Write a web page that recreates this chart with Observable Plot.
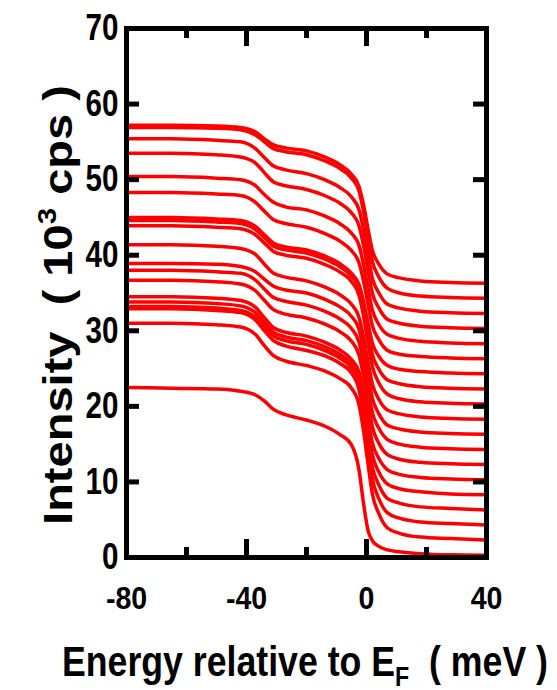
<!DOCTYPE html>
<html><head><meta charset="utf-8">
<script src="https://cdn.jsdelivr.net/npm/d3@7"></script>
<script src="https://cdn.jsdelivr.net/npm/@observablehq/plot@0.6"></script>
<style>
html,body{margin:0;padding:0;background:#fff;}
#chart{width:557px;height:690px;position:relative;}
</style></head><body><div id="chart"></div>
<script>
// Energy sample positions (meV)
const energy = [-80, -65, -50, -42, -37, -34, -31, -27, -20, -14, -9, -5, -2.5, -1, 0.5, 2, 4, 7, 11, 18, 28, 40];
// Intensity curves (10^3 cps), top to bottom
const curve01 = [57.2, 57.2, 57.1, 56.9, 56.3, 55.4, 54.6, 54.2, 53.8, 53.0, 52.0, 50.7, 49.1, 46.7, 43.5, 40.6, 38.9, 37.5, 37.0, 36.6, 36.4, 36.3];
const curve02 = [56.9, 56.9, 56.8, 56.6, 55.9, 55.0, 54.1, 53.7, 53.3, 52.5, 51.5, 50.2, 48.5, 45.8, 42.3, 39.1, 37.2, 35.6, 35.0, 34.6, 34.4, 34.3];
const curve03 = [55.4, 55.4, 55.2, 55.0, 54.1, 52.9, 51.8, 51.3, 50.8, 50.0, 49.0, 47.7, 46.0, 43.4, 40.0, 36.9, 35.1, 33.5, 33.0, 32.6, 32.4, 32.3];
const curve04 = [53.5, 53.5, 53.3, 53.0, 52.2, 50.9, 49.7, 49.2, 48.7, 47.9, 46.9, 45.6, 43.9, 41.3, 38.0, 34.9, 33.1, 31.5, 31.0, 30.6, 30.4, 30.3];
const curve05 = [50.4, 50.4, 50.2, 50.0, 49.2, 48.0, 47.0, 46.4, 46.0, 45.2, 44.2, 42.9, 41.3, 38.8, 35.6, 32.7, 30.9, 29.5, 29.0, 28.6, 28.4, 28.3];
const curve06 = [48.3, 48.3, 48.1, 47.9, 47.0, 45.8, 44.7, 44.2, 43.7, 42.9, 41.9, 40.6, 39.0, 36.6, 33.5, 30.6, 28.9, 27.4, 26.9, 26.6, 26.4, 26.3];
const curve07 = [45.0, 45.0, 44.8, 44.6, 43.8, 42.7, 41.6, 41.1, 40.7, 39.9, 38.9, 37.6, 36.1, 33.9, 31.0, 28.3, 26.7, 25.4, 24.9, 24.6, 24.4, 24.3];
const curve08 = [44.6, 44.6, 44.4, 44.2, 43.4, 42.3, 41.2, 40.7, 40.3, 39.5, 38.5, 37.2, 35.6, 33.0, 29.8, 26.8, 25.0, 23.5, 23.0, 22.6, 22.4, 22.3];
const curve09 = [43.9, 43.9, 43.7, 43.5, 42.7, 41.6, 40.5, 40.0, 39.6, 38.8, 37.8, 36.5, 34.7, 32.0, 28.4, 25.2, 23.2, 21.6, 21.0, 20.6, 20.4, 20.3];
const curve10 = [41.4, 41.4, 41.2, 40.9, 40.1, 38.8, 37.6, 37.1, 36.6, 35.8, 34.8, 33.5, 31.8, 29.2, 25.9, 22.9, 21.0, 19.5, 19.0, 18.6, 18.4, 18.3];
const curve11 = [38.9, 38.9, 38.8, 38.5, 37.8, 36.8, 35.9, 35.4, 35.0, 34.2, 33.2, 31.9, 30.2, 27.5, 24.1, 21.0, 19.1, 17.5, 17.0, 16.6, 16.4, 16.3];
const curve12 = [38.0, 38.0, 37.8, 37.6, 36.7, 35.5, 34.4, 33.9, 33.4, 32.6, 31.6, 30.3, 28.5, 25.8, 22.3, 19.1, 17.2, 15.6, 15.0, 14.6, 14.4, 14.3];
const curve13 = [36.7, 36.7, 36.5, 36.2, 35.3, 34.0, 32.8, 32.2, 31.7, 30.9, 29.9, 28.6, 26.8, 24.0, 20.5, 17.2, 15.2, 13.6, 13.0, 12.6, 12.4, 12.3];
const curve14 = [34.5, 34.5, 34.3, 34.0, 33.1, 31.7, 30.4, 29.8, 29.3, 28.5, 27.5, 26.2, 24.5, 21.8, 18.3, 15.1, 13.2, 11.6, 11.0, 10.6, 10.4, 10.3];
const curve15 = [33.8, 33.8, 33.6, 33.3, 32.4, 31.1, 29.8, 29.2, 28.7, 27.9, 26.9, 25.6, 23.7, 20.8, 17.0, 13.5, 11.4, 9.7, 9.1, 8.7, 8.4, 8.3];
const curve16 = [33.2, 33.2, 33.0, 32.7, 31.8, 30.5, 29.3, 28.7, 28.2, 27.4, 26.4, 25.1, 23.0, 19.8, 15.7, 11.9, 9.7, 7.8, 7.2, 6.7, 6.5, 6.3];
const curve17 = [32.9, 32.9, 32.7, 32.4, 31.4, 30.0, 28.7, 28.0, 27.4, 26.7, 25.7, 24.4, 22.2, 18.8, 14.4, 10.3, 7.9, 5.9, 5.2, 4.7, 4.5, 4.3];
const curve18 = [31.0, 31.0, 30.8, 30.5, 29.5, 28.0, 26.7, 26.0, 25.4, 24.7, 23.7, 22.4, 20.2, 16.8, 12.4, 8.3, 5.9, 3.9, 3.2, 2.7, 2.5, 2.3];
const curve19 = [22.5, 22.4, 22.3, 22.0, 21.5, 20.7, 19.6, 18.9, 18.2, 17.4, 16.3, 14.9, 11.6, 7.2, 3.6, 2.2, 1.5, 1.0, 0.75, 0.5, 0.35, 0.3];
const curves = [curve01, curve02, curve03, curve04, curve05, curve06, curve07, curve08, curve09, curve10,
                curve11, curve12, curve13, curve14, curve15, curve16, curve17, curve18, curve19];

const yTicks = [0, 10, 20, 30, 40, 50, 60, 70];
const xLabelTicks = [-80, -40, 0, 40];
const xMajorTicks = [-40, 0];
const xMinorTicks = [-60, -20, 20];
const xTitle = "Energy relative to E";
const xTitleSub = "F";
const xTitleUnit = "  ( meV )";
const yTitle = "Intensity  ( 10";
const yTitleSup = "3";
const yTitleUnit = " cps )";

const W = 557, H = 690, mL = 126, mR = 71, mT = 28, mB = 133;
const pw = W - mL - mR, ph = H - mT - mB;

const rows = curves.flatMap((c, i) => c.map((v, j) => ({e: energy[j], v, id: i})));
const tk = {stroke: "black", strokeWidth: 5};

const svg = Plot.plot({
  width: W, height: H,
  marginLeft: mL, marginRight: mR, marginTop: mT, marginBottom: mB,
  x: {domain: [-80, 40]},
  y: {domain: [0, 70]},
  style: {fontFamily: "'Liberation Sans', Arial, sans-serif", fontWeight: "bold", color: "black", background: "white", overflow: "visible"},
  marks: [
    Plot.line(rows, {x: "e", y: "v", z: "id", stroke: "#ff0000", strokeWidth: 3.5, curve: "monotone-x"}),
    Plot.frame({stroke: "black", strokeWidth: 5}),
    Plot.tickY(yTicks, {y: d => d, insetRight: pw - 13, ...tk}),
    Plot.tickY(yTicks, {y: d => d, insetLeft: pw - 13, ...tk}),
    Plot.tickX(xMajorTicks, {x: d => d, insetTop: ph - 18, ...tk}),
    Plot.tickX(xMinorTicks, {x: d => d, insetTop: ph - 10, ...tk}),
    Plot.tickX(xMajorTicks, {x: d => d, insetBottom: ph - 18, ...tk}),
    Plot.tickX(xMinorTicks, {x: d => d, insetBottom: ph - 10, ...tk}),
    Plot.axisY(yTicks, {anchor: "left", tickSize: 0, tickPadding: 8, fontSize: 37, label: null, tickFormat: d => String(d)}),
    Plot.axisX(xLabelTicks, {anchor: "bottom", tickSize: 0, tickPadding: 29, fontSize: 31, label: null, tickFormat: d => String(d)})
  ]
});
document.getElementById("chart").appendChild(svg);

// condense tick labels horizontally
d3.select(svg).selectAll('g[aria-label="y-axis tick label"] text').each(function() {
  const w = this.getComputedTextLength();
  this.setAttribute("textLength", w * 0.8);
  this.setAttribute("lengthAdjust", "spacingAndGlyphs");
});
d3.select(svg).selectAll('g[aria-label="x-axis tick label"] text').each(function() {
  const w = this.getComputedTextLength();
  this.setAttribute("textLength", w * 0.92);
  this.setAttribute("lengthAdjust", "spacingAndGlyphs");
});

const ff = "'Liberation Sans', Arial, sans-serif";
// x title
const gx = d3.select(svg).append("g").attr("transform", "translate(305,676)");
const tx = gx.append("text").attr("text-anchor", "middle").attr("font-family", ff)
  .attr("font-weight", "bold").attr("font-size", 43).attr("fill", "black").attr("xml:space", "preserve").style("white-space", "pre");
tx.append("tspan").text(xTitle);
tx.append("tspan").attr("font-size", 28).attr("dy", 10).text(xTitleSub);
tx.append("tspan").attr("dy", -10).text(xTitleUnit);
{
  const w = tx.node().getBBox().width;
  tx.attr("transform", `scale(${486 / w},1)`);
}
// y title
const gy = d3.select(svg).append("g").attr("transform", "translate(72,305) rotate(-90)");
const ty = gy.append("text").attr("text-anchor", "middle").attr("font-family", ff)
  .attr("font-weight", "bold").attr("font-size", 40).attr("fill", "black").style("white-space", "pre");
ty.append("tspan").text(yTitle);
ty.append("tspan").attr("font-size", 25).attr("dy", -16).text(yTitleSup);
ty.append("tspan").attr("dy", 16).text(yTitleUnit);
{
  const w = ty.node().getBBox().width;
  ty.attr("transform", `scale(${440 / w},1)`);
}
</script>
</body></html>
